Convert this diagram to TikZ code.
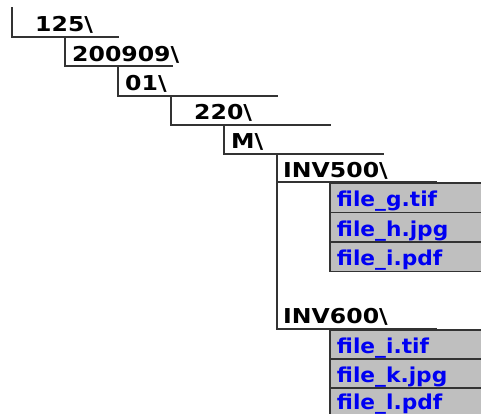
\documentclass[tikz,border=0pt]{standalone}
\usepackage{fontspec}
\newfontfamily\treefont{DejaVu Sans}[FakeStretch=1.06]
\newfontfamily\dirfont{DejaVu Sans}[FakeStretch=1.15]
\begin{document}
\begin{tikzpicture}[x=1pt,y=-1pt,
  treeline/.style={draw=black!80, line width=1.8pt, line cap=rect},
  dirlabel/.style={anchor=base west, inner sep=0pt, text=black,
    font=\dirfont\bfseries\fontsize{20.5}{22}\selectfont},
  filebox/.style={draw=black!80, fill=black!25, line width=1.8pt, anchor=north west,
    text width=160pt, align=left, inner xsep=7pt, inner ysep=2pt,
    text depth=3.5pt, text=blue!95!black,
    font=\treefont\bfseries\fontsize{20.5}{24}\selectfont}]
\useasboundingbox (0,0) rectangle (481,414);

% folder labels
\node[dirlabel] (d125) at (35,32) {125\textbackslash};
\node[dirlabel] (d200909) at (72,61.5) {200909\textbackslash};
\node[dirlabel] (d01) at (125,91) {01\textbackslash};
\node[dirlabel] (d220) at (194,120) {220\textbackslash};
\node[dirlabel] (dM) at (231,149) {M\textbackslash};
\node[dirlabel] (dinvA) at (283,177) {INV500\textbackslash};
\node[dirlabel] (dinvB) at (283,323) {INV600\textbackslash};

% tree corners
\coordinate (t1) at (12,8);   \coordinate (c1) at (12,37);   \coordinate (e1) at (118,37);
\coordinate (t2) at (65,37);  \coordinate (c2) at (65,66);   \coordinate (e2) at (172,66);
\coordinate (t3) at (118,66); \coordinate (c3) at (118,96);  \coordinate (e3) at (277,96);
\coordinate (t4) at (171,96); \coordinate (c4) at (171,125); \coordinate (e4) at (330,125);
\coordinate (t5) at (224,125);\coordinate (c5) at (224,154); \coordinate (e5) at (383,154);
\coordinate (t6) at (277,154);\coordinate (c6) at (277,182); \coordinate (e6) at (436,182);
\coordinate (c7) at (277,329); \coordinate (e7) at (436,329);

% file boxes
\node[filebox, text height=22pt] (fg) at (329,182) {file\_g.tif};
\node[filebox, text height=22pt] (fh) at (329,211.5) {file\_h.jpg};
\node[filebox, text height=22pt] (fi) at (329,241) {file\_i.pdf};
\node[filebox, text height=21.5pt] (fi2) at (329,329) {file\_i.tif};
\node[filebox, text height=21.5pt] (fk) at (329,358) {file\_k.jpg};
\node[filebox, text height=20pt] (fl) at (329,387) {file\_l.pdf};

% tree lines
\draw[treeline] (t1) -- (c1) -- (e1);
\draw[treeline] (t2) -- (c2) -- (e2);
\draw[treeline] (t3) -- (c3) -- (e3);
\draw[treeline] (t4) -- (c4) -- (e4);
\draw[treeline] (t5) -- (c5) -- (e5);
\draw[treeline] (t6) -- (c6) -- (e6);
\draw[treeline] (c6) -- (c7) -- (e7);
\end{tikzpicture}
\end{document}
